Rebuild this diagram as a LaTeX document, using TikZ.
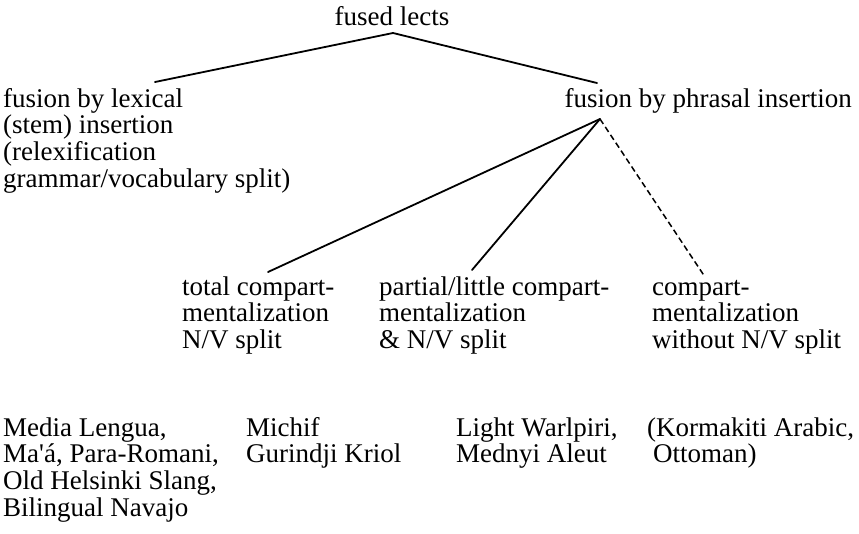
\documentclass[tikz,border=0pt]{standalone}
\usepackage{fontspec}
\setmainfont{Liberation Serif}[Ligatures=TeXOff]
\begin{document}
\begin{tikzpicture}[x=1pt,y=-1pt,
  lbl/.style={anchor=base west,align=left,inner sep=0pt,font=\fontsize{27}{26.8}\selectfont},
  branch/.style={line width=1.8pt,line cap=round},
  dbranch/.style={line width=1.5pt,dash pattern=on 6pt off 3.5pt}]
\useasboundingbox (0,0) rectangle (859,533);
% labels (anchor base = baseline of the last line)
\node[lbl,anchor=base] (root) at (392,25) {fused lects};
\node[lbl] (lex) at (3,187.4) {fusion by lexical\\(stem) insertion\\(relexification\\grammar/vocabulary split)};
\node[lbl,anchor=base east] (phr) at (852,107) {fusion by phrasal insertion};
\node[lbl] (tot) at (182,348.6) {total compart-\\mentalization\\N/V split};
\node[lbl] (par) at (379,348.6) {partial/little compart-\\mentalization\\\& N/V split};
\node[lbl] (cmp) at (652,348.6) {compart-\\mentalization\\without N/V split};
\node[lbl] (ex1) at (3,516.4) {Media Lengua,\\Ma'á, Para-Romani,\\Old Helsinki Slang,\\Bilingual Navajo};
\node[lbl] (ex2) at (246,462.8) {Michif\\Gurindji Kriol};
\node[lbl] (ex3) at (456,462.8) {Light Warlpiri,\\Mednyi Aleut};
\node[lbl] (ex4) at (647,462.8) {(Kormakiti Arabic,\\\hspace*{6pt}Ottoman)};
% connector ends
\coordinate (rootB) at (393,33);
\coordinate (lexT) at (155,82);
\coordinate (phrT) at (597,83);
\coordinate (phrB) at (600,119);
\coordinate (totT) at (268,272);
\coordinate (parT) at (472,270);
\coordinate (cmpT) at (705,277);
% connectors
\draw[branch] (rootB) -- (lexT);
\draw[branch] (rootB) -- (phrT);
\draw[branch] (phrB) -- (totT);
\draw[branch] (phrB) -- (parT);
\draw[dbranch] (phrB) -- (cmpT);
\end{tikzpicture}
\end{document}
